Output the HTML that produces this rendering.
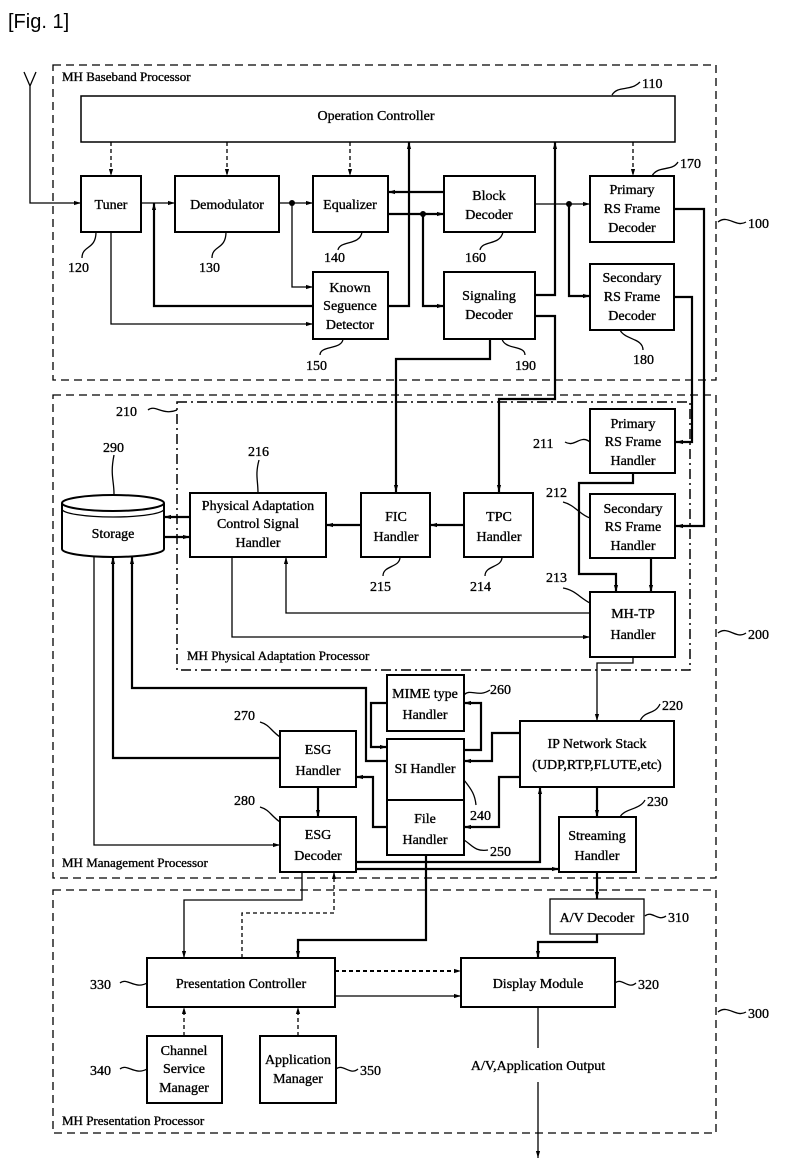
<!DOCTYPE html>
<html><head><meta charset="utf-8"><style>
html,body{margin:0;padding:0;background:#fff;}
svg{display:block;}
text{font-family:"Liberation Serif",serif;font-size:14px;fill:#000;stroke:#000;stroke-width:0.35;}
.c{text-anchor:middle;}
.b{fill:#fff;stroke:#000;stroke-width:2;}
.l{fill:none;stroke:#000;stroke-width:1.3;}
.t{fill:none;stroke:#000;stroke-width:2.2;}
.d{fill:none;stroke:#000;stroke-width:1.3;stroke-dasharray:4,3;}
.g{fill:none;stroke:#000;stroke-width:1.3;stroke-dasharray:8,5;}
.dd{fill:none;stroke:#000;stroke-width:1.5;stroke-dasharray:10,4,2,4;}
</style></head><body>
<svg width="792" height="1176" viewBox="0 0 792 1176" xmlns="http://www.w3.org/2000/svg">
<defs><marker id="a" viewBox="0 0 10 10" refX="10" refY="5" markerWidth="7" markerHeight="7" orient="auto-start-reverse" markerUnits="userSpaceOnUse"><path d="M0,2 L10,5 L0,8 z" fill="#000"/></marker></defs>
<text x="8" y="28" style="font-family:'Liberation Sans',sans-serif;font-size:20px;stroke-width:0">[Fig. 1]</text>

<rect x="53" y="65" width="663" height="315" class="g"/>
<text x="62" y="81" style="font-size:13px">MH Baseband Processor</text>
<path d="M24,72 L30,86 L36,72 M30,86 L30,203 L81,203" class="l" marker-end="url(#a)"/>
<rect x="81" y="96" width="594" height="46" class="b" style="stroke-width:1.5"/>
<text x="376" y="120" class="c">Operation Controller</text>
<rect x="81" y="176" width="60" height="56" class="b"/><text x="111" y="209" class="c">Tuner</text>
<rect x="175" y="176" width="104" height="56" class="b"/><text x="227" y="209" class="c">Demodulator</text>
<rect x="313" y="176" width="75" height="56" class="b"/><text x="350" y="209" class="c">Equalizer</text>
<rect x="444" y="176" width="91" height="56" class="b"/><text x="489" y="200" class="c">Block</text><text x="489" y="219" class="c">Decoder</text>
<rect x="590" y="176" width="84" height="66" class="b"/><text x="632" y="194" class="c">Primary</text><text x="632" y="213" class="c">RS Frame</text><text x="632" y="232" class="c">Decoder</text>
<rect x="313" y="272" width="75" height="67" class="b"/><text x="350" y="292" class="c">Known</text><text x="350" y="310" class="c">Seguence</text><text x="350" y="329" class="c">Detector</text>
<rect x="444" y="272" width="91" height="67" class="b"/><text x="489" y="300" class="c">Signaling</text><text x="489" y="319" class="c">Decoder</text>
<rect x="590" y="264" width="84" height="66" class="b"/><text x="632" y="282" class="c">Secondary</text><text x="632" y="301" class="c">RS Frame</text><text x="632" y="320" class="c">Decoder</text>
<path d="M111,142 V176" class="d" marker-end="url(#a)"/>
<path d="M227,142 V176" class="d" marker-end="url(#a)"/>
<path d="M350,142 V176" class="d" marker-end="url(#a)"/>
<path d="M633,142 V176" class="d" marker-end="url(#a)"/>
<path d="M141,203 H175" class="l" marker-end="url(#a)"/>
<path d="M279,203 H313" class="l" marker-end="url(#a)"/>
<circle cx="292" cy="203" r="3"/>
<path d="M292,203 V287 H313" class="l" marker-end="url(#a)"/>
<path d="M313,306 H154 V203" class="t" marker-end="url(#a)"/>
<path d="M111,232 V324 H313" class="l" marker-end="url(#a)"/>
<path d="M388,306 H409 V142" class="t" marker-end="url(#a)"/>
<path d="M444,192 H388" class="t" marker-end="url(#a)"/>
<path d="M388,214 H444" class="t" marker-end="url(#a)"/>
<circle cx="423" cy="214" r="3"/>
<path d="M423,214 V306 H444" class="t" marker-end="url(#a)"/>
<path d="M535,204 H590" class="l" marker-end="url(#a)"/>
<circle cx="569" cy="204" r="3"/>
<path d="M569,204 V296 H590" class="t" marker-end="url(#a)"/>
<path d="M535,295 H555 V142" class="t" marker-end="url(#a)"/>
<path d="M535,316 H555 V399 H499 V492" class="t" marker-end="url(#a)"/>
<path d="M490,339 V359 H396 V492" class="t" marker-end="url(#a)"/>
<path d="M674,209 H704 V526 H676" class="t" marker-end="url(#a)"/>
<path d="M674,297 H692 V442 H676" class="t" marker-end="url(#a)"/>
<path d="M612,95 C618,85 630,92 640,82" class="l"/><text x="642" y="88">110</text>
<path d="M652,176 C658,165 672,172 678,162" class="l"/><text x="680" y="168">170</text>
<path d="M718,222 C728,214 736,228 746,222" class="l"/><text x="748" y="228">100</text>
<path d="M96,232 C96,250 82,245 82,258" class="l"/><text x="68" y="272">120</text>
<path d="M226,232 C226,250 212,245 212,258" class="l"/><text x="199" y="272">130</text>
<path d="M362,232 C360,246 340,240 338,250" class="l"/><text x="324" y="262">140</text>
<path d="M343,339 C342,350 320,345 320,355" class="l"/><text x="306" y="370">150</text>
<path d="M503,232 C500,246 482,240 480,250" class="l"/><text x="465" y="262">160</text>
<path d="M502,339 C505,350 525,345 525,355" class="l"/><text x="515" y="370">190</text>
<path d="M620,330 C625,340 643,338 643,350" class="l"/><text x="633" y="364">180</text>

<rect x="53" y="395" width="663" height="483" class="g"/>
<rect x="177" y="402" width="513" height="268" class="dd"/>
<path d="M148,410 C155,404 163,416 177,410" class="l"/><text x="116" y="416">210</text>
<text x="187" y="660" style="font-size:13px">MH Physical Adaptation Processor</text>
<path d="M718,633 C728,625 736,640 746,633" class="l"/><text x="748" y="639">200</text>
<path d="M62,503 V549 A51,8 0 0 0 164,549 V503" class="b"/>
<ellipse cx="113" cy="503" rx="51" ry="8" class="b"/>
<path d="M62,509 A51,8 0 0 0 164,509" class="l"/>
<text x="113" y="538" class="c">Storage</text>
<path d="M114,494 C114,480 110,475 114,455" class="l"/><text x="103" y="452">290</text>
<rect x="190" y="493" width="136" height="64" class="b"/>
<text x="258" y="510" class="c">Physical Adaptation</text><text x="258" y="528" class="c">Control Signal</text><text x="258" y="547" class="c">Handler</text>
<path d="M258,493 C258,480 255,475 259,460" class="l"/><text x="248" y="456">216</text>
<rect x="361" y="493" width="69" height="64" class="b"/><text x="396" y="521" class="c">FIC</text><text x="396" y="541" class="c">Handler</text>
<rect x="464" y="493" width="69" height="64" class="b"/><text x="499" y="521" class="c">TPC</text><text x="499" y="541" class="c">Handler</text>
<path d="M400,557 C400,568 383,565 383,576" class="l"/><text x="370" y="591">215</text>
<path d="M502,557 C502,568 485,565 485,576" class="l"/><text x="470" y="591">214</text>
<rect x="590" y="409" width="85" height="64" class="b"/><text x="633" y="428" class="c">Primary</text><text x="633" y="446" class="c">RS Frame</text><text x="633" y="465" class="c">Handler</text>
<path d="M590,442 C580,434 575,448 565,442" class="l"/><text x="533" y="448">211</text>
<rect x="590" y="494" width="85" height="64" class="b"/><text x="633" y="513" class="c">Secondary</text><text x="633" y="531" class="c">RS Frame</text><text x="633" y="550" class="c">Handler</text>
<path d="M590,518 C580,515 575,505 563,502" class="l"/><text x="546" y="497">212</text>
<rect x="590" y="592" width="85" height="65" class="b"/><text x="633" y="618" class="c">MH-TP</text><text x="633" y="639" class="c">Handler</text>
<path d="M590,603 C580,598 575,590 563,588" class="l"/><text x="546" y="582">213</text>
<path d="M464,525 H430" class="t" marker-end="url(#a)"/>
<path d="M361,525 H326" class="t" marker-end="url(#a)"/>
<path d="M190,517 H164" class="t" marker-end="url(#a)"/>
<path d="M164,537 H190" class="t" marker-end="url(#a)"/>
<path d="M633,473 V483 H579 V574 H616 V592" class="t" marker-end="url(#a)"/>
<path d="M651,558 V592" class="t" marker-end="url(#a)"/>
<path d="M590,613 H286 V557" class="l" marker-end="url(#a)"/>
<path d="M232,557 V637 H590" class="l" marker-end="url(#a)"/>
<path d="M633,657 V663 H597 V721" class="l" marker-end="url(#a)"/>
<rect x="387" y="675" width="77" height="56" class="b"/><text x="425" y="698" class="c">MIME type</text><text x="425" y="719" class="c">Handler</text>
<path d="M464,695 C470,688 478,698 490,690" class="l"/><text x="490" y="694">260</text>
<rect x="387" y="739" width="77" height="61" class="b"/><text x="425" y="773" class="c">SI Handler</text>
<rect x="387" y="800" width="77" height="55" class="b"/><text x="425" y="823" class="c">File</text><text x="425" y="844" class="c">Handler</text>
<rect x="520" y="721" width="154" height="66" class="b"/><text x="597" y="748" class="c">IP Network Stack</text><text x="597" y="769" class="c">(UDP,RTP,FLUTE,etc)</text>
<path d="M640,721 C645,710 655,715 660,704" class="l"/><text x="662" y="710">220</text>
<rect x="559" y="817" width="77" height="55" class="b"/><text x="597" y="840" class="c">Streaming</text><text x="597" y="860" class="c">Handler</text>
<path d="M620,817 C625,808 640,810 645,800" class="l"/><text x="647" y="806">230</text>
<rect x="280" y="731" width="76" height="56" class="b"/><text x="318" y="754" class="c">ESG</text><text x="318" y="775" class="c">Handler</text>
<path d="M280,737 C270,730 270,725 260,722" class="l"/><text x="234" y="720">270</text>
<rect x="280" y="817" width="76" height="55" class="b"/><text x="318" y="839" class="c">ESG</text><text x="318" y="860" class="c">Decoder</text>
<path d="M280,822 C270,815 270,810 260,807" class="l"/><text x="234" y="805">280</text>
<path d="M464,780 C472,790 475,795 476,805" class="l"/><text x="470" y="820">240</text>
<path d="M464,840 C472,845 475,852 488,850" class="l"/><text x="490" y="856">250</text>
<text x="62" y="867" style="font-size:13px">MH Management Processor</text>
<path d="M387,703 H371 V747 H387" class="t" marker-end="url(#a)"/>
<path d="M464,750 H481 V703 H464" class="t" marker-end="url(#a)"/>
<path d="M520,733 H492 V761 H464" class="t" marker-end="url(#a)"/>
<path d="M520,777 H499 V827 H464" class="t" marker-end="url(#a)"/>
<path d="M387,827 H373 V777 H356" class="t" marker-end="url(#a)"/>
<path d="M387,761 H366 V688 H132 V557" class="t" marker-end="url(#a)"/>
<path d="M280,758 H113 V557" class="t" marker-end="url(#a)"/>
<path d="M94,557 V845 H280" class="l" marker-end="url(#a)"/>
<path d="M318,787 V817" class="t" marker-end="url(#a)"/>
<path d="M356,862 H540 V787" class="t" marker-end="url(#a)"/>
<path d="M356,869 H559" class="t" marker-end="url(#a)"/>
<path d="M597,787 V817" class="t" marker-end="url(#a)"/>

<rect x="53" y="890" width="663" height="243" class="g"/>
<path d="M718,1012 C728,1004 736,1018 746,1012" class="l"/><text x="748" y="1018">300</text>
<rect x="550" y="899" width="94" height="35" class="b" style="stroke-width:1.3"/><text x="597" y="922" class="c">A/V Decoder</text>
<path d="M645,916 C652,910 658,922 666,916" class="l"/><text x="668" y="922">310</text>
<rect x="461" y="958" width="154" height="49" class="b"/><text x="538" y="988" class="c">Display Module</text>
<path d="M615,983 C622,977 628,990 636,983" class="l"/><text x="638" y="989">320</text>
<rect x="147" y="958" width="188" height="49" class="b"/><text x="241" y="988" class="c">Presentation Controller</text>
<path d="M120,983 C127,977 135,990 147,983" class="l"/><text x="90" y="989">330</text>
<rect x="147" y="1036" width="75" height="67" class="b"/><text x="184" y="1055" class="c">Channel</text><text x="184" y="1073" class="c">Service</text><text x="184" y="1092" class="c">Manager</text>
<path d="M120,1069 C127,1063 135,1076 147,1069" class="l"/><text x="90" y="1075">340</text>
<rect x="260" y="1036" width="76" height="67" class="b"/><text x="298" y="1064" class="c">Application</text><text x="298" y="1083" class="c">Manager</text>
<path d="M336,1069 C343,1063 350,1076 358,1069" class="l"/><text x="360" y="1075">350</text>
<text x="62" y="1125" style="font-size:13px">MH Presentation Processor</text>
<path d="M597,872 V899" class="t" marker-end="url(#a)"/>
<path d="M597,934 V942 H538 V958" class="t" marker-end="url(#a)"/>
<path d="M538,1007 V1048 M538,1082 V1158" class="l" marker-end="url(#a)"/>
<text x="538" y="1070" class="c">A/V,Application Output</text>
<path d="M335,971 H461" class="d" style="stroke-width:2" marker-end="url(#a)"/>
<path d="M335,996 H461" class="l" marker-end="url(#a)"/>
<path d="M302,872 V900 H184 V958" class="l" marker-end="url(#a)"/>
<path d="M242,958 V913 H334 V872" class="d" marker-end="url(#a)"/>
<path d="M426,855 V940 H298 V958" class="t" marker-end="url(#a)"/>
<path d="M184,1036 V1007" class="d" marker-end="url(#a)"/>
<path d="M298,1036 V1007" class="d" marker-end="url(#a)"/>
</svg>
</body></html>
